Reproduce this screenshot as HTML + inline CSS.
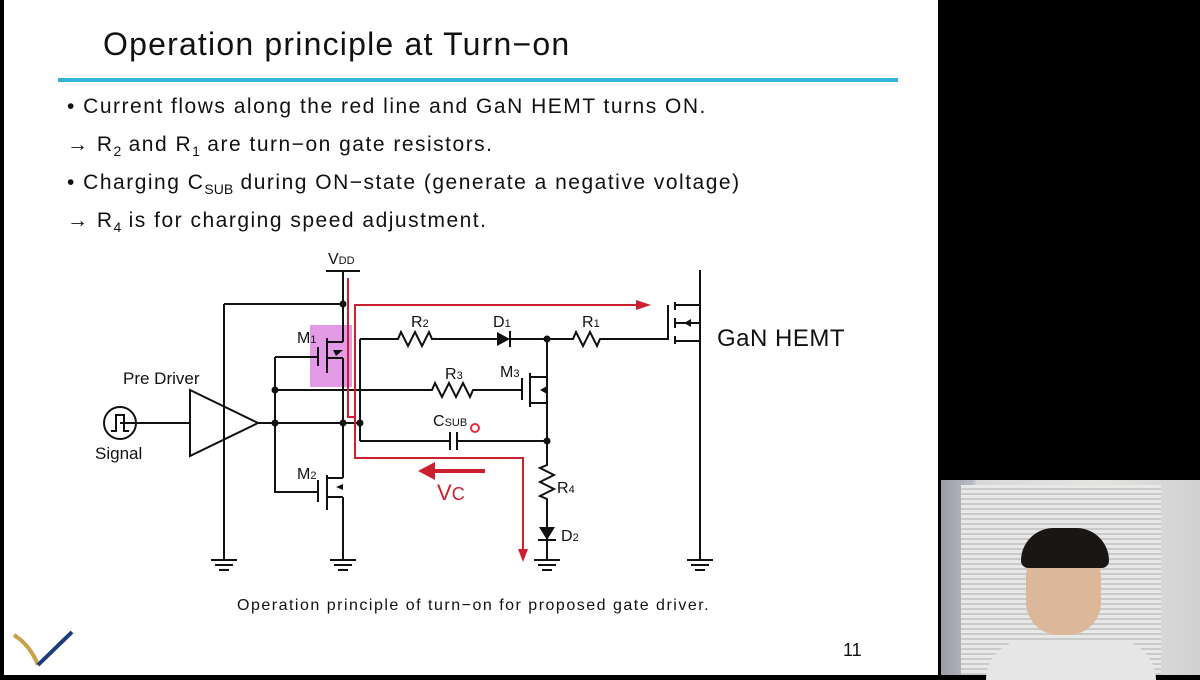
<!DOCTYPE html>
<html><head><meta charset="utf-8"><style>
body{margin:0;width:1200px;height:675px;background:#000;overflow:hidden;font-family:"Liberation Sans","Noto Sans CJK JP",sans-serif}
#s{position:absolute;left:4px;top:0;width:934px;height:675px;background:#fff}
.t{position:absolute;white-space:nowrap;color:#111}
sub{font-size:14px;vertical-align:-5px;letter-spacing:0}
.b{font-size:21px;letter-spacing:1.5px}
#cam{position:absolute;left:941px;top:480px;width:259px;height:195px;background:linear-gradient(90deg,#9a9ca8 0,#b8bbc4 12%,#d6d8da 14%,#e4e4e2 60%,#cfd0d0 100%)}
</style></head><body>
<div id="s"></div>
<div class="t" style="left:103px;top:26px;font-size:32px;letter-spacing:1.2px">Operation principle at Turn−on</div>
<div style="position:absolute;left:58px;top:78px;width:840px;height:4px;background:#2fb5d6"></div>
<div class="t b" style="left:67px;top:95px">• Current flows along the red line and GaN HEMT turns ON.</div>
<div class="t b" style="left:67px;top:133px">→ R<sub>2</sub> and R<sub>1</sub> are turn−on gate resistors.</div>
<div class="t b" style="left:67px;top:171px">• Charging C<sub>SUB</sub> during ON−state (generate a negative voltage)</div>
<div class="t b" style="left:67px;top:209px">→ R<sub>4</sub> is for charging speed adjustment.</div>
<div class="t" style="left:237px;top:597px;font-size:16px;letter-spacing:1.5px">Operation principle of turn−on for proposed gate driver.</div>
<div class="t" style="left:843px;top:640px;font-size:18px">11</div>
<svg style="position:absolute;left:0;top:0" width="1200" height="675">
<g fill="none" stroke="#111" stroke-width="2">
<path d="M14 635 Q30 645 38 665" stroke="#c9a24a" stroke-width="4"/>
<path d="M38 665 L72 632" stroke="#1c3d78" stroke-width="4"/>
<rect x="310" y="325" width="42" height="62" fill="#e39be6" stroke="none"/>
<path d="M326 271H360M343 271V342M343 358V478M343 497V560"/>
<path d="M224 304H343M224 304V560"/>
<path d="M318 347V366M327 338V373M327 342H343M327 358H343"/>
<path d="M275 357H318M275 357V492H318"/>
<path d="M275 390H432l3-7 7 14 7-14 7 14 7-14 7 14 3-7H522"/>
<path d="M522 378V400M530 373V407M530 377H547M530 403H547"/>
<path d="M258 423H360M360 339V441"/>
<path d="M360 339H398l3-7 7 14 7-14 7 14 7-14 3 7H497M510 339H573l3-7 7 14 7-14 7 14 3-7H668"/>
<path d="M360 441H450M457 441H547M450 432V450M457 432V450"/>
<path d="M547 339V465l-7 3 14 7-14 7 14 7-14 7 7 3V560M538 540H556"/>
<path d="M318 480V502M327 475V510M327 478H343M327 497H343"/>
<path d="M668 305V340M675 302V310M675 318V328M675 336V344M675 305H700M675 341H700M675 323H700M700 270V560"/>
<path d="M120 423H190M190 390L258 423L190 456Z"/>
<circle cx="120" cy="423" r="16"/>
<path d="M111 431H116V415H124V431H129"/>
</g>
<g fill="#111">
<path d="M497 332V346L510 339Z"/><rect x="509" y="331" width="2" height="16"/>
<path d="M539 527H555L547 540Z"/>
<path d="M333 350L343 350L336 356Z"/><path d="M540 390L547 386V394Z"/><path d="M336 487L343 484V490Z"/><path d="M684 323L691 319V327Z"/>
<circle cx="343" cy="304" r="3.5"/><circle cx="275" cy="390" r="3.5"/><circle cx="275" cy="423" r="3.5"/><circle cx="343" cy="423" r="3.5"/><circle cx="360" cy="423" r="3.5"/><circle cx="547" cy="339" r="3.5"/><circle cx="547" cy="441" r="3.5"/>
</g>
<g stroke="#111" stroke-width="2">
<path d="M211 560H237M215 565H233M219 570H229"/>
<path d="M330 560H356M334 565H352M338 570H348"/>
<path d="M534 560H560M538 565H556M542 570H552"/>
<path d="M687 560H713M691 565H709M695 570H705"/>
</g>
<g fill="none" stroke="#cc2030" stroke-width="2">
<path d="M348 278V417H355"/>
<path d="M640 305H355V458H523V552"/>
<path d="M485 471H432" stroke-width="4"/>
</g>
<g fill="#cc2030"><path d="M651 305L636 300V310Z"/><path d="M523 562L518 549H528Z"/><path d="M418 471L435 462V480Z"/></g>
<circle cx="475" cy="428" r="4" fill="none" stroke="#e03040" stroke-width="2"/>
<g font-family="Liberation Sans,sans-serif" fill="#111" font-size="16">
<text x="328" y="264">V<tspan font-size="11">DD</tspan></text>
<text x="297" y="343">M<tspan font-size="11">1</tspan></text>
<text x="297" y="479">M<tspan font-size="11">2</tspan></text>
<text x="500" y="377">M<tspan font-size="11">3</tspan></text>
<text x="411" y="327">R<tspan font-size="11">2</tspan></text>
<text x="493" y="327">D<tspan font-size="11">1</tspan></text>
<text x="582" y="327">R<tspan font-size="11">1</tspan></text>
<text x="445" y="379">R<tspan font-size="11">3</tspan></text>
<text x="433" y="426">C<tspan font-size="11">SUB</tspan></text>
<text x="557" y="493">R<tspan font-size="11">4</tspan></text>
<text x="561" y="541">D<tspan font-size="11">2</tspan></text>
<text x="123" y="384" font-size="17">Pre Driver</text>
<text x="95" y="459" font-size="17">Signal</text>
<text x="717" y="346" font-size="24" letter-spacing="0.5">GaN HEMT</text>
<text x="437" y="500" font-size="22" fill="#cc2030">V<tspan font-size="18">C</tspan></text>
</g>
</svg>
<div id="cam">
<div style="position:absolute;left:20px;top:5px;width:200px;height:190px;background:repeating-linear-gradient(180deg,#e8e8e6 0 3px,#c9cacb 3px 5px)"></div>
<div style="position:absolute;left:85px;top:60px;width:75px;height:95px;border-radius:40px 40px 35px 35px;background:#dcb79a"></div>
<div style="position:absolute;left:80px;top:48px;width:88px;height:40px;border-radius:45px 45px 10px 10px;background:#1a1614"></div>
<div style="position:absolute;left:45px;top:160px;width:170px;height:40px;border-radius:50px 50px 0 0;background:#e6e6e6"></div>
</div>
</body></html>
